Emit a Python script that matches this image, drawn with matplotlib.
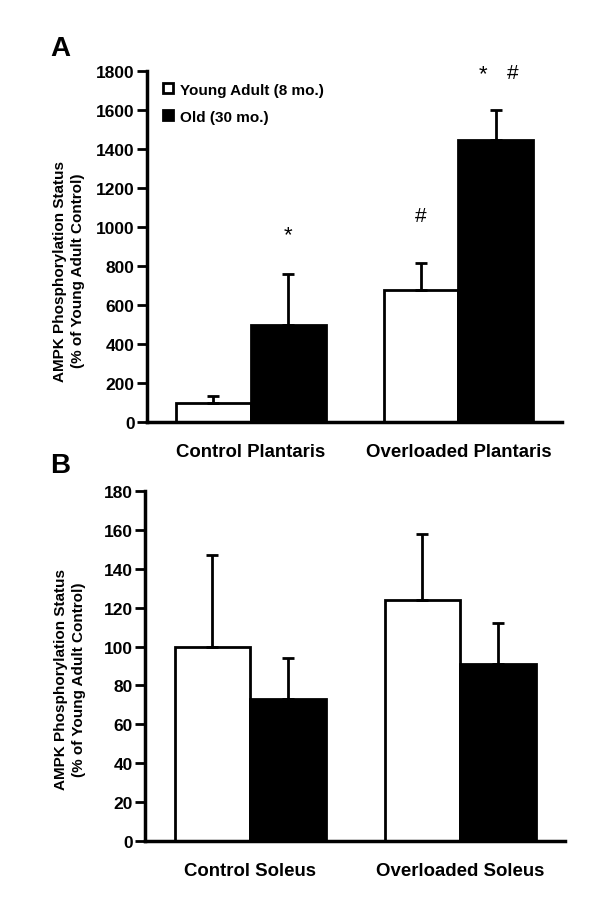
import numpy as np
import matplotlib.pyplot as plt

plt.rcParams['font.family'] = ['Liberation Sans', 'DejaVu Sans']

# Panel A: plantaris
groups_a = ['Control Plantaris', 'Overloaded Plantaris']
young_a = [100, 680]
young_a_err = [35, 135]
old_a = [500, 1450]
old_a_err = [260, 150]

# Panel B: soleus
groups_b = ['Control Soleus', 'Overloaded Soleus']
young_b = [100, 124]
young_b_err = [47, 34]
old_b = [73, 91]
old_b_err = [21, 21]

ylabel = 'AMPK Phosphorylation Status\n(% of Young Adult Control)'

fig = plt.figure(figsize=(6, 9.04), dpi=100)
ax_a = fig.add_axes([0.245, 0.532, 0.692, 0.388])
ax_b = fig.add_axes([0.242, 0.0686, 0.70, 0.3872])

w = 0.36


def draw_panel(ax, groups, young, young_err, old, old_err, ymax, step):
    x = np.arange(len(groups))
    ax.bar(x - w / 2, young, w, color='white', edgecolor='black', linewidth=2,
           yerr=[np.zeros(len(young)), young_err], capsize=4.5,
           error_kw=dict(elinewidth=2, capthick=2, ecolor='black'),
           label='Young Adult (8 mo.)', zorder=2)
    ax.bar(x + w / 2, old, w, color='black', edgecolor='black', linewidth=2,
           yerr=[np.zeros(len(old)), old_err], capsize=4.5,
           error_kw=dict(elinewidth=2, capthick=2, ecolor='black'),
           label='Old (30 mo.)', zorder=2)
    ax.set_xlim(-0.5, 1.5)
    ax.set_ylim(0, ymax)
    ax.set_yticks(np.arange(0, ymax + 1, step))
    ax.set_xticks(x)
    ax.set_xticklabels(groups, fontsize=13.4, fontweight='bold')
    ax.tick_params(axis='x', length=0, pad=15)
    ax.tick_params(axis='y', length=7, width=2, labelsize=12.5, pad=2)
    for lab in ax.get_yticklabels():
        lab.set_fontweight('bold')
    for s in ['top', 'right']:
        ax.spines[s].set_visible(False)
    for s in ['left', 'bottom']:
        ax.spines[s].set_linewidth(2.5)


draw_panel(ax_a, groups_a, young_a, young_a_err, old_a, old_a_err, 1800, 200)
draw_panel(ax_b, groups_b, young_b, young_b_err, old_b, old_b_err, 180, 20)

# y labels placed in figure pixels (from top)
fig.text(69 / 600, 1 - 271 / 904, ylabel, rotation=90, ha='center', va='center',
         fontsize=11, fontweight='bold', linespacing=1.35)
fig.text(70 / 600, 1 - 680 / 904, ylabel, rotation=90, ha='center', va='center',
         fontsize=11, fontweight='bold', linespacing=1.35)

ax_a.legend(loc='upper left', bbox_to_anchor=(0.025, 0.985), frameon=False,
            prop=dict(weight='bold', size=11), handlelength=0.65, handleheight=0.65,
            handletextpad=0.45, labelspacing=0.85, borderaxespad=0)

# significance markers
ax_a.text(0 + w / 2, 960, '*', ha='center', va='center', fontsize=16)
ax_a.text(1 - w / 2, 1060, '#', ha='center', va='center', fontsize=15)
ax_a.text(1 + w / 2 - 0.06, 1790, '*', ha='center', va='center', fontsize=16)
ax_a.text(1 + w / 2 + 0.08, 1795, '#', ha='center', va='center', fontsize=15)

fig.text(50 / 600, 1 - 49 / 904, 'A', fontsize=20, fontweight='bold', ha='left', va='center')
fig.text(50 / 600, 1 - 466 / 904, 'B', fontsize=20, fontweight='bold', ha='left', va='center')

fig.savefig('out.png', dpi=100)
